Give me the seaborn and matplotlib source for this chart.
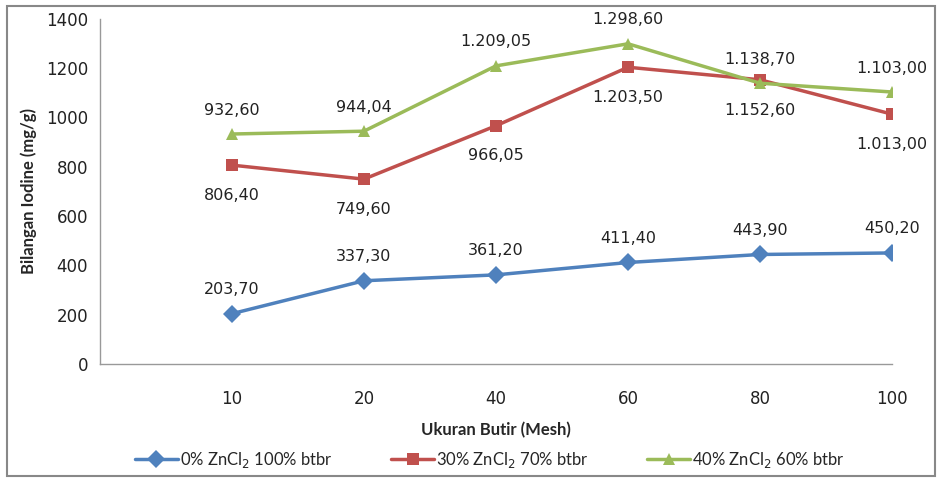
import matplotlib
matplotlib.use("Agg")
import matplotlib.pyplot as plt
import seaborn as sns
import pandas as pd
from matplotlib.patches import Rectangle

# data
mesh = ["10", "20", "40", "60", "80", "100"]
seri_0 = [203.70, 337.30, 361.20, 411.40, 443.90, 450.20]
seri_30 = [806.40, 749.60, 966.05, 1203.50, 1152.60, 1013.00]
seri_40 = [932.60, 944.04, 1209.05, 1298.60, 1138.70, 1103.00]
nama = ["0% ZnCl$_2$ 100% btbr", "30% ZnCl$_2$ 70% btbr", "40% ZnCl$_2$ 60% btbr"]
warna = ["#4F81BD", "#C0504D", "#9BBB59"]

df = pd.DataFrame({
    "Mesh": mesh * 3,
    "Iodine": seri_0 + seri_30 + seri_40,
    "Seri": [nama[0]] * 6 + [nama[1]] * 6 + [nama[2]] * 6,
})

sns.set_style("white")
fig = plt.figure(figsize=(9.42, 4.82), dpi=100)
ax = fig.add_axes([0.106, 0.245, 0.841, 0.716])

sns.lineplot(data=df, x="Mesh", y="Iodine", hue="Seri", style="Seri",
             palette=warna, markers=["D", "s", "^"], dashes=False,
             markersize=9, linewidth=2.5, markeredgewidth=0, ax=ax)


def fmt(v):
    s = f"{v:,.2f}"
    return s.replace(",", "X").replace(".", ",").replace("X", ".")


for i, v in enumerate(seri_0):
    ax.annotate(fmt(v), (i, v), xytext=(0, 14), textcoords="offset points",
                ha="center", fontsize=11.5, color="#222222")
for i, v in enumerate(seri_30):
    ax.annotate(fmt(v), (i, v), xytext=(0, -25), textcoords="offset points",
                ha="center", fontsize=11.5, color="#222222")
for i, v in enumerate(seri_40):
    ax.annotate(fmt(v), (i, v), xytext=(0, 14), textcoords="offset points",
                ha="center", fontsize=11.5, color="#222222")

ax.set_xlim(-1, 5)
ax.set_ylim(0, 1400)
ax.set_yticks(range(0, 1401, 200))
ax.set_xticks(range(-1, 6))
ax.set_xticklabels([""] + mesh)
ax.tick_params(axis="both", length=5, color="#888888", direction="out",
               labelsize=12, colors="#222222")
ax.tick_params(axis="x", pad=14)
for s in ["top", "right"]:
    ax.spines[s].set_visible(False)
for s in ["left", "bottom"]:
    ax.spines[s].set_color("#999999")
    ax.spines[s].set_linewidth(1)

ax.set_xlabel("Ukuran Butir (Mesh)", fontsize=12, fontweight="bold",
              family="Lato", labelpad=10)
ax.set_ylabel("Bilangan Iodine (mg/g)", fontsize=12, fontweight="bold",
              family="Lato", labelpad=6)

handles, labels = ax.get_legend_handles_labels()
ax.get_legend().remove()
fig.legend(handles, labels, loc="center", bbox_to_anchor=(0.52, 0.045), ncol=3,
           frameon=False, prop={"family": "Lato", "size": 12},
           handlelength=2.6, columnspacing=3.5, handletextpad=0.1)

fig.patches.append(Rectangle((0.007, 0.012), 0.986, 0.975, transform=fig.transFigure,
                             fill=False, edgecolor="#888888", linewidth=1.5))

fig.savefig("out.png", dpi=100)
